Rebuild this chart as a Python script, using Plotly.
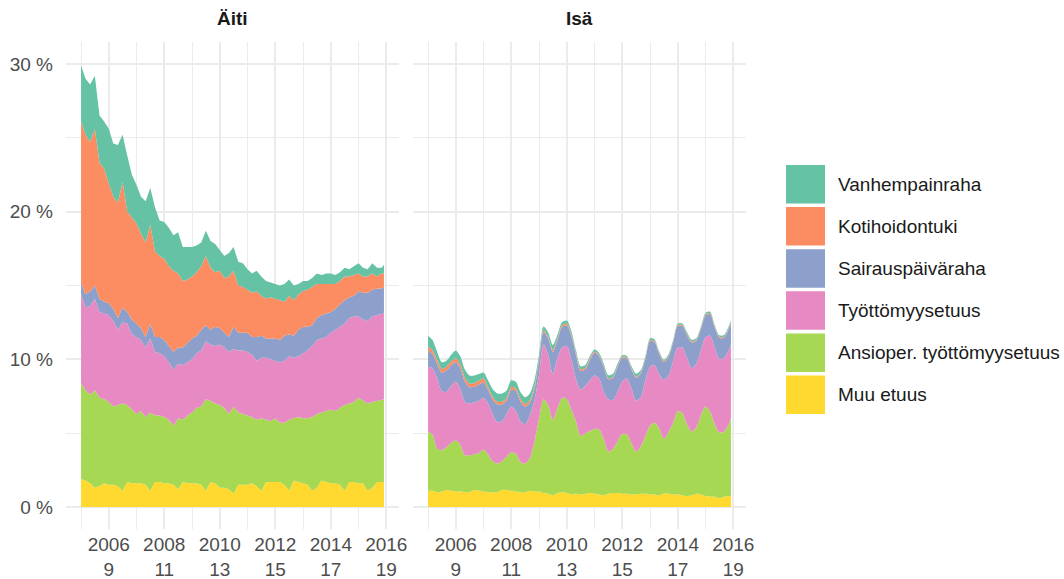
import pandas as pd
import plotly.graph_objects as go

# ---- data: bi-monthly points, Jan 2005 .. Nov 2015, plus Dec 2015 ----
dates = pd.date_range("2005-01-01", periods=66, freq="2MS").strftime("%Y-%m-%d").tolist() + ["2015-12-01"]

series = ["Muu etuus", "Ansioper. työttömyysetuus", "Työttömyysetuus",
          "Sairauspäiväraha", "Kotihoidontuki", "Vanhempainraha"]
colors = ["#FFD92F", "#A6D854", "#E78AC3", "#8DA0CB", "#FC8D62", "#66C2A5"]
panels = ["Äiti", "Isä"]

# Äiti (mother), % shares
aiti_muu = [1.9, 1.8, 1.6, 1.3, 1.4, 1.6, 1.5, 1.5, 1.4, 1.1, 1.7, 1.6,
            1.6, 1.6, 1.5, 1.1, 1.7, 1.7, 1.6, 1.6, 1.5, 1.2, 1.7, 1.6,
            1.6, 1.6, 1.5, 1.1, 1.7, 1.6, 1.3, 1.3, 1.2, 0.9, 1.5, 1.5,
            1.5, 1.6, 1.4, 1.1, 1.7, 1.7, 1.7, 1.7, 1.5, 1.1, 1.8, 1.7,
            1.6, 1.5, 1.1, 1.3, 1.8, 1.7, 1.6, 1.6, 1.5, 1.1, 1.7, 1.7,
            1.6, 1.6, 1.1, 1.3, 1.7, 1.7, 1.7]
aiti_ansio = [6.5, 6.1, 6.0, 6.6, 6.0, 5.7, 5.6, 5.3, 5.5, 5.9, 5.2, 5.0,
              4.7, 4.9, 4.6, 5.3, 4.5, 4.5, 4.5, 4.3, 4.0, 4.8, 4.2, 4.6,
              4.8, 5.1, 5.3, 6.2, 5.5, 5.4, 5.6, 5.4, 5.1, 5.9, 4.9, 4.8,
              4.7, 4.5, 4.5, 4.9, 4.2, 4.1, 4.3, 4.0, 4.2, 4.8, 4.2, 4.4,
              4.4, 4.5, 5.0, 5.0, 4.6, 4.8, 5.0, 4.9, 5.2, 5.8, 5.3, 5.4,
              5.8, 5.6, 5.9, 5.8, 5.5, 5.6, 5.6]
aiti_tyott = [6.0, 5.6, 6.0, 6.2, 5.8, 5.8, 5.9, 5.8, 5.1, 5.5, 5.5, 5.1,
              5.2, 4.8, 4.7, 5.0, 4.3, 4.2, 4.1, 3.9, 3.8, 3.7, 3.7, 3.6,
              3.6, 3.7, 3.8, 3.9, 3.8, 3.9, 4.1, 4.1, 4.2, 3.9, 4.2, 4.3,
              4.3, 4.2, 4.0, 4.1, 4.2, 4.2, 3.9, 4.1, 4.2, 4.3, 4.1, 4.1,
              4.4, 4.6, 4.8, 5.0, 5.0, 5.0, 5.2, 5.5, 5.5, 5.5, 5.8, 5.8,
              5.5, 5.5, 5.6, 5.8, 5.8, 5.8, 5.8]
aiti_sair = [0.8, 0.9, 1.0, 0.9, 0.9, 0.8, 0.8, 0.8, 0.8, 1.0, 0.8, 1.0,
             0.9, 0.8, 0.7, 1.0, 1.0, 1.1, 1.1, 1.1, 1.2, 1.1, 1.2, 1.3,
             1.4, 1.2, 1.4, 1.1, 1.0, 1.3, 1.1, 1.0, 1.0, 1.5, 1.2, 1.2,
             1.3, 1.2, 1.6, 1.5, 1.3, 1.4, 1.5, 1.5, 1.7, 1.5, 1.5, 1.8,
             1.8, 1.6, 1.4, 1.5, 1.6, 1.6, 1.4, 1.4, 1.5, 1.6, 1.4, 1.4,
             1.7, 1.8, 1.9, 1.8, 1.8, 1.7, 1.8]
aiti_koti = [10.9, 10.8, 10.1, 10.6, 9.2, 9.0, 8.1, 7.6, 7.8, 8.5, 6.8, 6.9,
             6.8, 6.4, 6.4, 6.7, 5.8, 5.5, 5.5, 5.4, 5.5, 5.0, 4.5, 4.3,
             4.2, 4.3, 4.3, 4.7, 4.2, 3.7, 3.9, 3.7, 4.1, 3.8, 3.2, 3.1,
             2.9, 3.0, 3.1, 2.7, 2.7, 2.8, 2.7, 2.7, 2.3, 2.6, 2.4, 2.4,
             2.4, 2.5, 2.6, 2.3, 2.1, 2.0, 1.9, 1.7, 1.6, 1.6, 1.4, 1.4,
             1.2, 1.1, 1.1, 1.1, 0.8, 1.0, 0.9]
aiti_vanh = [3.8, 3.8, 3.9, 3.6, 3.2, 3.2, 3.7, 3.6, 3.9, 3.2, 3.8, 2.9,
             2.6, 2.5, 2.8, 2.5, 3.0, 2.4, 2.5, 2.6, 2.4, 2.8, 2.3, 2.2,
             2.0, 1.8, 1.6, 1.7, 1.8, 1.9, 1.4, 1.5, 1.6, 1.6, 1.6, 1.6,
             1.4, 1.3, 1.4, 1.3, 1.2, 1.0, 1.0, 1.0, 1.2, 1.1, 1.0, 0.7,
             0.7, 0.6, 0.6, 0.7, 0.6, 0.7, 0.7, 0.6, 0.6, 0.6, 0.5, 0.6,
             0.7, 0.6, 0.5, 0.7, 0.6, 0.4, 0.6]

# Isä (father), % shares
isa_muu = [1.1, 1.1, 1.0, 1.05, 1.15, 1.1, 1.05, 1.05, 1.0, 1.0, 1.15, 1.1,
           1.05, 1.0, 1.0, 1.0, 1.15, 1.15, 1.1, 1.05, 1.0, 1.0, 1.1, 1.05,
           1.05, 0.95, 0.9, 0.8, 0.95, 1.0, 0.95, 0.85, 0.9, 0.85, 0.9, 0.95,
           0.9, 0.85, 0.8, 0.9, 0.95, 0.95, 0.9, 0.9, 0.85, 0.85, 0.9, 0.9,
           0.85, 0.85, 0.8, 0.9, 0.9, 0.85, 0.85, 0.8, 0.75, 0.8, 0.9, 0.85,
           0.75, 0.7, 0.7, 0.6, 0.7, 0.75, 0.75]
isa_ansio = [4.0, 3.8, 2.95, 2.8, 2.9, 3.25, 3.45, 3.15, 2.5, 2.5, 2.4, 2.55,
             2.85, 2.55, 2.1, 1.95, 1.95, 2.25, 2.6, 2.55, 2.05, 1.95, 2.2, 3.35,
             4.95, 6.35, 6.0, 5.1, 5.75, 6.4, 6.35, 5.75, 4.9, 3.95, 4.1, 4.2,
             4.4, 4.4, 3.8, 2.85, 3.0, 3.5, 4.05, 4.0, 3.45, 2.9, 3.2, 3.9,
             4.65, 4.85, 4.5, 3.7, 4.2, 4.85, 5.65, 5.55, 4.85, 4.3, 4.5, 5.35,
             6.05, 5.75, 4.9, 4.45, 4.4, 4.85, 5.25]
isa_tyott = [4.4, 4.5, 4.75, 4.0, 3.75, 3.85, 4.0, 3.8, 3.6, 3.5, 3.55, 3.55,
             3.5, 3.45, 3.2, 2.8, 2.7, 2.9, 3.1, 2.9, 2.75, 2.65, 2.9, 2.8,
             3.0, 3.7, 3.4, 3.1, 3.4, 3.4, 3.6, 3.4, 2.9, 3.15, 3.2, 3.45,
             3.6, 3.45, 3.2, 3.55, 3.3, 3.35, 3.55, 3.8, 3.7, 3.45, 3.35, 3.8,
             4.0, 3.9, 3.7, 4.0, 3.8, 4.2, 4.3, 4.45, 4.5, 4.3, 4.3, 4.4,
             4.7, 5.15, 5.2, 4.95, 5.0, 5.0, 5.0]
isa_sair = [1.1, 0.95, 1.0, 1.25, 1.45, 1.4, 1.3, 1.4, 1.4, 1.1, 1.05, 1.1,
            1.05, 0.95, 1.0, 1.2, 1.15, 0.9, 1.15, 1.35, 1.35, 1.2, 0.85, 0.8,
            0.9, 0.85, 1.1, 1.5, 1.2, 1.4, 1.4, 1.6, 1.6, 1.25, 1.1, 1.35,
            1.55, 1.5, 1.7, 1.35, 1.5, 1.7, 1.6, 1.35, 1.3, 1.55, 1.6, 1.45,
            1.75, 1.55, 1.35, 1.2, 1.25, 1.25, 1.45, 1.45, 1.55, 1.75, 1.55, 1.45,
            1.45, 1.45, 1.35, 1.45, 1.35, 1.45, 1.45]
isa_koti = [0.25, 0.25, 0.25, 0.25, 0.25, 0.25, 0.25, 0.25, 0.25, 0.25, 0.25, 0.25,
            0.25, 0.18, 0.18, 0.18, 0.18, 0.18, 0.18, 0.18, 0.18, 0.18, 0.18, 0.18,
            0.12, 0.12, 0.12, 0.12, 0.12, 0.12, 0.12, 0.12, 0.12, 0.12, 0.12, 0.12,
            0.07, 0.07, 0.07, 0.07, 0.07, 0.07, 0.07, 0.07, 0.07, 0.07, 0.07, 0.07,
            0.07, 0.07, 0.07, 0.07, 0.07, 0.07, 0.07, 0.07, 0.07, 0.07, 0.07, 0.07,
            0.07, 0.07, 0.07, 0.07, 0.07, 0.07, 0.07]
isa_vanh = [0.75, 0.7, 0.55, 0.45, 0.4, 0.45, 0.55, 0.55, 0.55, 0.55, 0.5, 0.45,
            0.4, 0.45, 0.5, 0.55, 0.55, 0.5, 0.45, 0.45, 0.45, 0.45, 0.45, 0.4,
            0.3, 0.25, 0.3, 0.35, 0.25, 0.2, 0.2, 0.2, 0.2, 0.2, 0.2, 0.15,
            0.15, 0.15, 0.15, 0.2, 0.2, 0.15, 0.1, 0.1, 0.15, 0.2, 0.15, 0.1,
            0.1, 0.12, 0.1, 0.1, 0.12, 0.1, 0.1, 0.1, 0.12, 0.1, 0.1, 0.1,
            0.12, 0.1, 0.1, 0.1, 0.12, 0.1, 0.1]

major_years = ["2006-01-01", "2008-01-01", "2010-01-01", "2012-01-01", "2014-01-01", "2016-01-01"]
major_text = ["2006<br>9", "2008<br>11", "2010<br>13", "2012<br>15", "2014<br>17", "2016<br>19"]
minor_years = ["2005-01-01", "2007-01-01", "2009-01-01", "2011-01-01", "2013-01-01", "2015-01-01"]
y_ticks = [0, 10, 20, 30]
y_text = ["0 %", "10 %", "20 %", "30 %"]
y_minor = [5, 15, 25]

panel_data = {
    "Äiti": [aiti_muu, aiti_ansio, aiti_tyott, aiti_sair, aiti_koti, aiti_vanh],
    "Isä": [isa_muu, isa_ansio, isa_tyott, isa_sair, isa_koti, isa_vanh],
}
for p in panel_data.values():
    for s in p:
        assert len(s) == len(dates), len(s)

# ---- figure ----
W, H = 1064, 579
FONT = "Liberation Sans, Arial, Helvetica, sans-serif"
GRID = "#EBEBEB"

fig = go.Figure()
for i, pname in enumerate(panels):
    ax = "" if i == 0 else "2"
    shape = "linear" if i == 0 else "spline"
    for name, vals, col in zip(series, panel_data[pname], colors):
        fig.add_trace(go.Scatter(
            x=dates, y=vals, name=name, mode="lines",
            stackgroup="g" + pname,
            line=dict(width=0, color=col, shape=shape, smoothing=0.8),
            fillcolor=col, showlegend=False,
            xaxis="x" + ax, yaxis="y" + ax, hoverinfo="skip"))

x_doms = [[66 / W, 399 / W], [413 / W, 746 / W]]
y_dom = [1 - 529 / H, 1 - 42 / H]
xr = ["2004-06-17", "2016-06-16"]
yr = [-1.49, 31.48]

def xaxis(dom, anchor):
    return dict(domain=dom, anchor=anchor, type="date", range=xr,
                tickmode="array", tickvals=major_years, ticktext=major_text,
                showgrid=True, gridcolor=GRID, gridwidth=2.1,
                minor=dict(tickmode="array", tickvals=minor_years, showgrid=True,
                           gridcolor=GRID, gridwidth=1.1, ticks=""),
                ticks="", showline=False, zeroline=False,
                tickfont=dict(family=FONT, size=19, color="#4D4D4D"),
                ticklabelstandoff=2, automargin=False, fixedrange=True)

def yaxis(anchor, show):
    return dict(domain=y_dom, anchor=anchor, range=yr,
                tickmode="array", tickvals=y_ticks, ticktext=y_text,
                showticklabels=show,
                showgrid=True, gridcolor=GRID, gridwidth=2.1,
                minor=dict(tickmode="array", tickvals=y_minor, showgrid=True,
                           gridcolor=GRID, gridwidth=1.1, ticks=""),
                ticks="", showline=False, zeroline=False,
                tickfont=dict(family=FONT, size=19, color="#4D4D4D"),
                ticklabelstandoff=12, automargin=False, fixedrange=True)

fig.update_layout(
    width=W, height=H,
    margin=dict(l=0, r=0, t=0, b=0),
    paper_bgcolor="white", plot_bgcolor="white",
    showlegend=False,
    xaxis=xaxis(x_doms[0], "y"),
    xaxis2=xaxis(x_doms[1], "y2"),
    yaxis=yaxis("x", True),
    yaxis2=yaxis("x2", False),
)

annotations = []
for i, pname in enumerate(panels):
    annotations.append(dict(
        x=(x_doms[i][0] + x_doms[i][1]) / 2, y=1 - 18 / H, xref="paper", yref="paper",
        text=pname, showarrow=False, xanchor="center", yanchor="middle",
        font=dict(family=FONT, size=19, color="#1A1A1A", weight="bold")))

# custom legend (keys as squares, labels to the right), top = last series
shapes = []
for j, (name, col) in enumerate(zip(series[::-1], colors[::-1])):
    top = 165 + j * 42.1
    bot = top + 38.5
    shapes.append(dict(type="rect", xref="paper", yref="paper",
                       x0=786 / W, x1=825 / W, y0=1 - bot / H, y1=1 - top / H,
                       fillcolor=col, line=dict(width=0)))
    annotations.append(dict(
        x=836 / W, y=1 - (top + bot) / 2 / H, xref="paper", yref="paper",
        text=name, showarrow=False, xanchor="left", yanchor="middle",
        font=dict(family=FONT, size=19, color="#1A1A1A")))

fig.update_layout(annotations=annotations, shapes=shapes)
fig.write_html("out.html", config={"displayModeBar": False},
               post_script="document.body.style.margin='0px';document.body.style.overflow='hidden';")
